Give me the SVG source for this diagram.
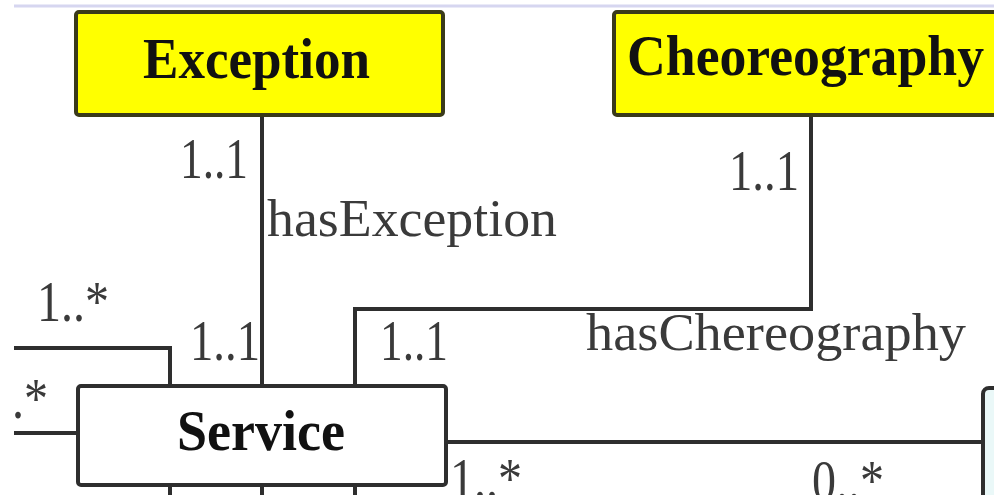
<svg xmlns="http://www.w3.org/2000/svg" width="994" height="495" viewBox="0 0 994 495">
  <style>
    .cls { stroke: #2e2e2e; stroke-width: 4; }
    .yellow { fill: #ffff00; stroke: #3a3a1a; }
    .white { fill: #ffffff; }
    .title { font-family: "Liberation Serif", "Times New Roman", serif; font-weight: bold; fill: #111111; }
    .lbl { font-family: "Liberation Serif", "Times New Roman", serif; fill: #3a3a3a; }
    .conn { fill: none; stroke: #2e2e2e; stroke-width: 4; }
  </style>
  <defs>
    <clipPath id="leftclip">
      <rect x="14" y="0" width="980" height="495"/>
    </clipPath>
  </defs>
  <rect x="0" y="0" width="994" height="495" fill="#ffffff"/>
  <line x1="14" y1="6" x2="994" y2="6" stroke="#d6d6f0" stroke-width="3"/>

  <g id="connectors">
    <path class="conn" d="M262 115 V385"/>
    <path class="conn" d="M811 115 V309 H355 V385"/>
    <path class="conn" d="M14 348 H170 V385"/>
    <path class="conn" d="M14 433 H78"/>
    <path class="conn" d="M446 442 H983"/>
    <path class="conn" d="M170 485 V495 M262 485 V495 M355 485 V495"/>
  </g>

  <g id="exception">
    <rect class="cls yellow" x="76" y="12" width="367" height="103" rx="3"/>
    <text class="title" x="143" y="78" font-size="56" textLength="227" lengthAdjust="spacingAndGlyphs">Exception</text>
  </g>

  <g id="choreography">
    <rect class="cls yellow" x="614" y="12" width="400" height="103" rx="3"/>
    <text class="title" x="627" y="75" font-size="56" textLength="357" lengthAdjust="spacingAndGlyphs">Cheoreography</text>
  </g>

  <g id="service">
    <rect class="cls white" x="78" y="386" width="368" height="99" rx="3"/>
    <text class="title" x="177" y="450" font-size="58" textLength="168" lengthAdjust="spacingAndGlyphs">Service</text>
  </g>

  <g id="right-node">
    <rect x="983" y="388" width="40" height="120" rx="6" fill="#eaf8f8" stroke="#2e2e2e" stroke-width="4"/>
  </g>

  <g id="labels">
    <text class="lbl" x="180" y="178" font-size="56" textLength="68" lengthAdjust="spacingAndGlyphs">1..1</text>
    <text class="lbl" x="267" y="236" font-size="52" textLength="290" lengthAdjust="spacingAndGlyphs">hasException</text>
    <text class="lbl" x="729" y="190" font-size="56" textLength="70" lengthAdjust="spacingAndGlyphs">1..1</text>
    <text class="lbl" x="586" y="350" font-size="52" textLength="380" lengthAdjust="spacingAndGlyphs">hasChereography</text>
    <text class="lbl" x="190" y="360" font-size="56" textLength="70" lengthAdjust="spacingAndGlyphs">1..1</text>
    <text class="lbl" x="380" y="360" font-size="56" textLength="68" lengthAdjust="spacingAndGlyphs">1..1</text>
    <text class="lbl" x="37" y="321" font-size="56" textLength="72" lengthAdjust="spacingAndGlyphs">1..*</text>
    <text class="lbl" x="-24" y="418" font-size="56" textLength="72" lengthAdjust="spacingAndGlyphs" clip-path="url(#leftclip)">1..*</text>
    <text class="lbl" x="450" y="498" font-size="56" textLength="72" lengthAdjust="spacingAndGlyphs">1..*</text>
    <text class="lbl" x="812" y="500" font-size="56" textLength="72" lengthAdjust="spacingAndGlyphs">0..*</text>
  </g>
</svg>
